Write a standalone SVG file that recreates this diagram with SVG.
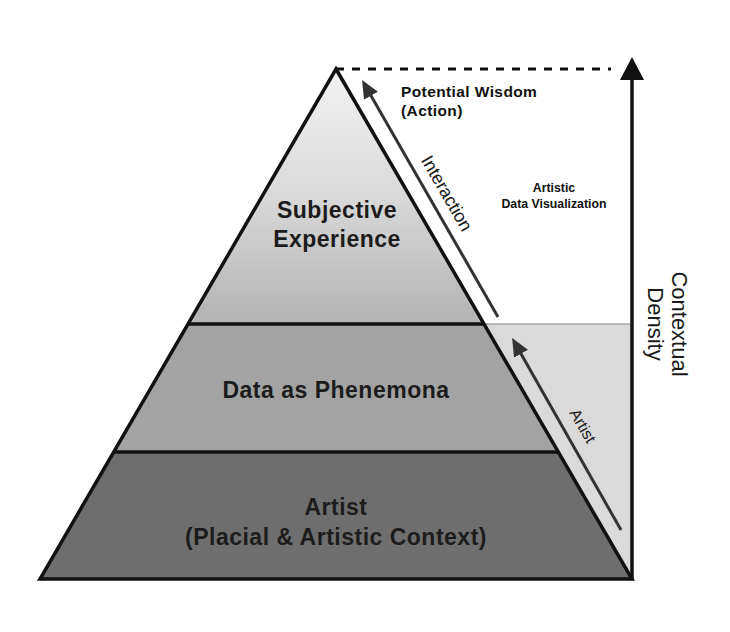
<svg xmlns="http://www.w3.org/2000/svg" width="730" height="632" viewBox="0 0 730 632">
  <defs>
    <linearGradient id="topGrad" x1="0" y1="69" x2="0" y2="324" gradientUnits="userSpaceOnUse">
      <stop offset="0" stop-color="#f2f2f2"/>
      <stop offset="0.45" stop-color="#dcdcdc"/>
      <stop offset="1" stop-color="#b3b3b3"/>
    </linearGradient>
    <marker id="head" viewBox="0 0 18 16" refX="2" refY="8" markerWidth="18" markerHeight="16" markerUnits="userSpaceOnUse" orient="auto">
      <path d="M0,0 L18,8 L0,16 z" fill="#333333"/>
    </marker>
    <style>
      .lbl { font-family: "Liberation Sans", Arial, Helvetica, sans-serif; font-weight: bold; fill: #1c1c1c; font-size: 23px; text-anchor: middle; letter-spacing: 0.5px; }
      .note { font-family: "Liberation Sans", Arial, Helvetica, sans-serif; font-weight: bold; fill: #111111; }
      .thin { font-family: "Liberation Sans", Arial, Helvetica, sans-serif; fill: #1a1a1a; text-anchor: middle; }
      .edge { stroke: #111111; stroke-width: 3.5; fill: none; }
      .conn { stroke: #333333; stroke-width: 3; fill: none; }
    </style>
  </defs>
  <rect width="730" height="632" fill="#ffffff"/>

  <g id="context-zone">
    <polygon points="484.6,324 632,324 632,579" fill="#dadada"/>
    <line x1="484.6" y1="324" x2="632" y2="324" stroke="#a6a6a6" stroke-width="1.5"/>
  </g>

  <g id="layer-subjective">
    <polygon points="336,69 484.6,324 187.4,324" fill="url(#topGrad)"/>
    <text class="lbl" x="337" y="218">Subjective</text>
    <text class="lbl" x="337" y="247">Experience</text>
  </g>

  <g id="layer-data">
    <polygon points="187.4,324 484.6,324 558.6,452 113.4,452" fill="#a3a3a3"/>
    <text class="lbl" x="336" y="398">Data as Phenemona</text>
  </g>

  <g id="layer-artist">
    <polygon points="113.4,452 558.6,452 632,579 40,579" fill="#6e6e6e"/>
    <text class="lbl" x="336" y="515">Artist</text>
    <text class="lbl" x="336" y="545">(Placial &amp; Artistic Context)</text>
  </g>

  <g id="pyramid-outline">
    <polygon class="edge" points="336,69 632,579 40,579" stroke-linejoin="miter"/>
    <line class="edge" x1="187.4" y1="324" x2="484.6" y2="324" stroke-width="3"/>
    <line class="edge" x1="113.4" y1="452" x2="558.6" y2="452" stroke-width="3"/>
  </g>

  <g id="connectors">
    <line x1="336" y1="69" x2="611" y2="69" stroke="#111111" stroke-width="3.2" stroke-dasharray="8,8"/>
    <line x1="632" y1="580" x2="632" y2="78" stroke="#111111" stroke-width="3.5"/>
    <polygon points="632,57 620,80 644,80" fill="#111111"/>
    <line class="conn" x1="498" y1="317" x2="370" y2="94" marker-end="url(#head)"/>
    <line class="conn" x1="621" y1="530" x2="520" y2="352" marker-end="url(#head)"/>
  </g>

  <g id="label-interaction">
    <text class="thin" font-size="18" transform="translate(441.4,196.3) rotate(60)">Interaction</text>
  </g>
  <g id="label-artist-arrow">
    <text class="thin" font-size="16" transform="translate(578,428.5) rotate(60)">Artist</text>
  </g>

  <g id="label-wisdom">
    <text class="note" font-size="15.5" x="401" y="97" letter-spacing="0.4">Potential Wisdom</text>
    <text class="note" font-size="15.5" x="401" y="116" letter-spacing="0.4">(Action)</text>
  </g>

  <g id="label-artistic-dv">
    <text class="note" font-size="12.3" x="554" y="192" text-anchor="middle">Artistic</text>
    <text class="note" font-size="12.3" x="554" y="208" text-anchor="middle">Data Visualization</text>
  </g>

  <g id="label-density">
    <text class="thin" font-size="22" transform="translate(672,324) rotate(90)">Contextual</text>
    <text class="thin" font-size="22" transform="translate(648,324) rotate(90)">Density</text>
  </g>
</svg>
